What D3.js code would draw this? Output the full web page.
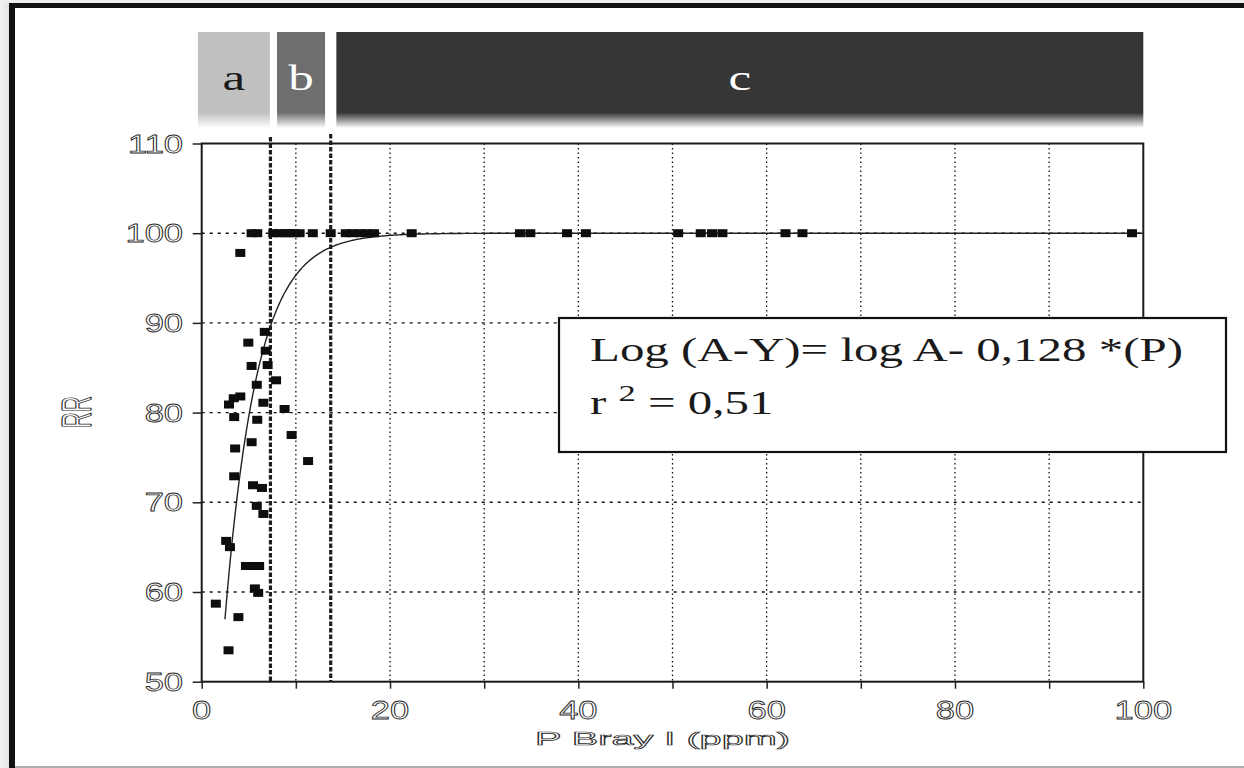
<!DOCTYPE html>
<html>
<head>
<meta charset="utf-8">
<script src="https://cdn.jsdelivr.net/npm/d3@7"></script>
<style>
  html, body { margin: 0; padding: 0; background: #fff; }
  svg { display: block; }
</style>
</head>
<body>
<svg id="chart" width="1244" height="768"></svg>
<script>
// Relative yield (RR, %) against soil P Bray I (ppm)
const pValues = [
  // points on the 100 % plateau
  5.3, 5.9, 7.6, 8.2, 8.8, 9.3, 9.8, 10.4, 11.8, 13.7, 15.3, 16.0, 16.8, 17.5, 18.3,
  22.3, 33.8, 34.9, 38.8, 40.8, 50.6, 53.0, 54.2, 55.3, 62.0, 63.8, 98.8,
  // responsive points
  4.1, 6.7, 4.95, 6.8, 5.3, 7.0, 7.9, 5.85, 4.1, 3.4, 2.9, 6.55, 8.8, 3.45, 5.9,
  9.55, 5.3, 3.55, 11.3, 3.45, 5.45, 6.4, 5.85, 6.55, 2.6, 3.0, 4.7, 5.45, 6.1,
  5.65, 6.0, 1.5, 3.9, 2.85
];
const rrValues = [
  100, 100, 100, 100, 100, 100, 100, 100, 100, 100, 100, 100, 100, 100, 100,
  100, 100, 100, 100, 100, 100, 100, 100, 100, 100, 100, 100,
  97.8, 89.0, 87.8, 86.9, 85.2, 85.3, 83.6, 83.1, 81.8, 81.6, 80.9, 81.1, 80.4, 79.5, 79.2,
  77.5, 76.7, 76.0, 74.6, 72.9, 71.9, 71.6, 69.6, 68.7, 65.7, 65.0, 62.9, 62.9, 62.9,
  60.4, 59.9, 58.7, 57.2, 53.5
];

// Fitted Mitscherlich-type model: log(A - Y) = log A' - 0.128 * P
const modelA = 100;
const modelLogIntercept = 1.95;
const modelSlope = 0.128;
const modelPStart = 2.47;
const modelPEnd = 100;

// Critical P levels separating the response zones
const thresholds = [7.3, 13.7];
const zoneNames = ["a", "b", "c"];
const zoneStart = [-0.4, 8.0, 14.3];
const zoneEnd = [7.25, 13.1, 100];
const zoneFill = ["#c0c0c0", "#6e6e6e", "#363636"];
const zoneText = ["#1a1a1a", "#ffffff", "#ffffff"];

const xTicks = [0, 20, 40, 60, 80, 100];
const xGrid = [10, 20, 30, 40, 50, 60, 70, 80, 90];
const yTicks = [50, 60, 70, 80, 90, 100, 110];
const yGrid = [60, 70, 80, 90, 100];

const xTitle = "P Bray I (ppm)";
const yTitle = "RR";
const eqLine1 = "Log (A-Y)= log A- 0,128 *(P)";
const eqR = "r ";
const eqSup = "2";
const eqRest = " = 0,51";

const svg = d3.select("#chart");

const plot = { left: 201.7, right: 1143.3, top: 143.5, bottom: 681.7 };
const x = d3.scaleLinear().domain([0, 100]).range([plot.left, plot.right]);
const y = d3.scaleLinear().domain([50, 110]).range([plot.bottom, plot.top]);

// page frame
const defs = svg.append("defs");
const side = defs.append("linearGradient").attr("id", "side").attr("x1", 0).attr("x2", 1).attr("y1", 0).attr("y2", 0);
side.append("stop").attr("offset", 0).attr("stop-color", "#f2f2f2");
side.append("stop").attr("offset", 1).attr("stop-color", "#e2e2e2");
svg.append("rect").attr("x", 0).attr("y", 0).attr("width", 10).attr("height", 768).attr("fill", "url(#side)");
svg.append("rect").attr("x", 0).attr("y", 0).attr("width", 1244).attr("height", 3).attr("fill", "#eeeeee");
svg.append("rect").attr("x", 9).attr("y", 3).attr("width", 6).attr("height", 765).attr("fill", "#111");
svg.append("rect").attr("x", 9).attr("y", 3).attr("width", 1235).attr("height", 5).attr("fill", "#111");
svg.append("rect").attr("x", 15).attr("y", 766).attr("width", 1229).attr("height", 2).attr("fill", "#b0b0b0");

// zone bands above the plot
zoneNames.forEach((name, i) => {
  const g = defs.append("linearGradient").attr("id", "zone" + i)
    .attr("x1", 0).attr("x2", 0).attr("y1", 0).attr("y2", 1);
  g.append("stop").attr("offset", 0).attr("stop-color", zoneFill[i]);
  g.append("stop").attr("offset", 0.84).attr("stop-color", zoneFill[i]);
  g.append("stop").attr("offset", 1).attr("stop-color", "#ffffff");
});
const bands = svg.append("g");
bands.selectAll("rect").data(zoneNames).join("rect")
  .attr("x", (d, i) => x(zoneStart[i]))
  .attr("width", (d, i) => x(zoneEnd[i]) - x(zoneStart[i]))
  .attr("y", 32).attr("height", 96)
  .attr("fill", (d, i) => `url(#zone${i})`);
bands.selectAll("g.lbl").data(zoneNames).join("g").attr("class", "lbl")
  .attr("transform", (d, i) => `translate(${(x(zoneStart[i]) + x(zoneEnd[i])) / 2},90) scale(1.42,1)`)
  .append("text")
  .attr("text-anchor", "middle")
  .attr("font-family", "Liberation Serif, Times New Roman, serif")
  .attr("font-size", 36)
  .attr("fill", (d, i) => zoneText[i])
  .text(d => d);

// grid
const grid = svg.append("g");
grid.selectAll("line.v").data(xGrid).join("line").attr("class", "v")
  .attr("x1", d => x(d)).attr("x2", d => x(d))
  .attr("y1", plot.top).attr("y2", plot.bottom)
  .attr("stroke", "#111").attr("stroke-width", 1.3).attr("stroke-dasharray", "1.5,3");
grid.selectAll("line.h").data(yGrid).join("line").attr("class", "h")
  .attr("x1", plot.left).attr("x2", plot.right)
  .attr("y1", d => y(d)).attr("y2", d => y(d))
  .attr("stroke", "#111").attr("stroke-width", 1.4).attr("stroke-dasharray", "3,5");

// axes
const xAxis = svg.append("g").attr("transform", `translate(0,${plot.bottom})`)
  .call(d3.axisBottom(x).tickValues(d3.range(0, 101, 10)).tickSize(7).tickFormat(""));
const yAxis = svg.append("g").attr("transform", `translate(${plot.left},0)`)
  .call(d3.axisLeft(y).tickValues(yTicks).tickSize(9).tickFormat(""));
[xAxis, yAxis].forEach(a => {
  a.select(".domain").remove();
  a.selectAll(".tick line").attr("stroke", "#222").attr("stroke-width", 1.5);
});
svg.append("rect")
  .attr("x", plot.left).attr("y", plot.top)
  .attr("width", plot.right - plot.left).attr("height", plot.bottom - plot.top)
  .attr("fill", "none").attr("stroke", "#1a1a1a").attr("stroke-width", 2);

// outlined tick labels
const tickFont = "Liberation Sans, Arial, sans-serif";
svg.append("g").selectAll("g").data(xTicks).join("g")
  .attr("transform", d => `translate(${x(d)},719) scale(1.38,1)`)
  .append("text")
  .attr("text-anchor", "middle")
  .attr("font-family", tickFont).attr("font-size", 25)
  .attr("fill", "#fff").attr("stroke", "#2a2a2a").attr("stroke-width", 0.8)
  .text(d => d);
svg.append("g").selectAll("g").data(yTicks).join("g")
  .attr("transform", d => `translate(183,${y(d) + 9}) scale(1.38,1)`)
  .append("text")
  .attr("text-anchor", "end")
  .attr("font-family", tickFont).attr("font-size", 25)
  .attr("fill", "#fff").attr("stroke", "#2a2a2a").attr("stroke-width", 0.8)
  .text(d => d);

// axis titles
svg.append("text")
  .attr("x", 535).attr("y", 745)
  .attr("font-family", tickFont).attr("font-size", 19)
  .attr("textLength", 255).attr("lengthAdjust", "spacingAndGlyphs")
  .attr("fill", "#fff").attr("stroke", "#2a2a2a").attr("stroke-width", 0.7)
  .text(xTitle);
svg.append("g").attr("transform", "translate(77,412) scale(1.9,1) rotate(-90)")
  .append("text")
  .attr("text-anchor", "middle").attr("dominant-baseline", "central")
  .attr("font-family", tickFont).attr("font-size", 22)
  .attr("fill", "#fff").attr("stroke", "#2a2a2a").attr("stroke-width", 0.6)
  .text(yTitle);

// critical level lines
svg.append("g").selectAll("line").data(thresholds).join("line")
  .attr("x1", d => x(d)).attr("x2", d => x(d))
  .attr("y1", (d, i) => i === 0 ? 137 : 134).attr("y2", plot.bottom)
  .attr("stroke", "#1e1e1e").attr("stroke-width", 3.2).attr("stroke-dasharray", "4.5,2");

// fitted curve
const curvePts = d3.range(modelPStart, modelPEnd + 0.001, 0.1)
  .map(p => [p, modelA - Math.pow(10, modelLogIntercept - modelSlope * p)]);
svg.append("path")
  .datum(curvePts)
  .attr("fill", "none").attr("stroke", "#222").attr("stroke-width", 1.4)
  .attr("d", d3.line().x(d => x(d[0])).y(d => y(d[1])));

// observations
svg.append("g").selectAll("rect").data(pValues).join("rect")
  .attr("x", (d) => x(d) - 5)
  .attr("y", (d, i) => y(rrValues[i]) - 4)
  .attr("width", 10).attr("height", 8)
  .attr("fill", "#0d0d0d");

// equation box
const eq = svg.append("g");
eq.append("rect")
  .attr("x", 559).attr("y", 318).attr("width", 667).attr("height", 134)
  .attr("fill", "#fff").attr("stroke", "#111").attr("stroke-width", 2.2);
eq.append("g").attr("transform", "translate(590,361) scale(1.44,1)")
  .append("text")
  .attr("font-family", "Liberation Serif, Times New Roman, serif")
  .attr("font-size", 34).attr("fill", "#1a1a1a")
  .text(eqLine1);
const l2 = eq.append("g").attr("transform", "translate(590,414) scale(1.44,1)")
  .append("text")
  .attr("font-family", "Liberation Serif, Times New Roman, serif")
  .attr("font-size", 34).attr("fill", "#1a1a1a");
l2.append("tspan").text(eqR);
l2.append("tspan").attr("font-size", 24).attr("dy", -13).text(eqSup);
l2.append("tspan").attr("dy", 13).text(eqRest);
</script>
</body>
</html>
